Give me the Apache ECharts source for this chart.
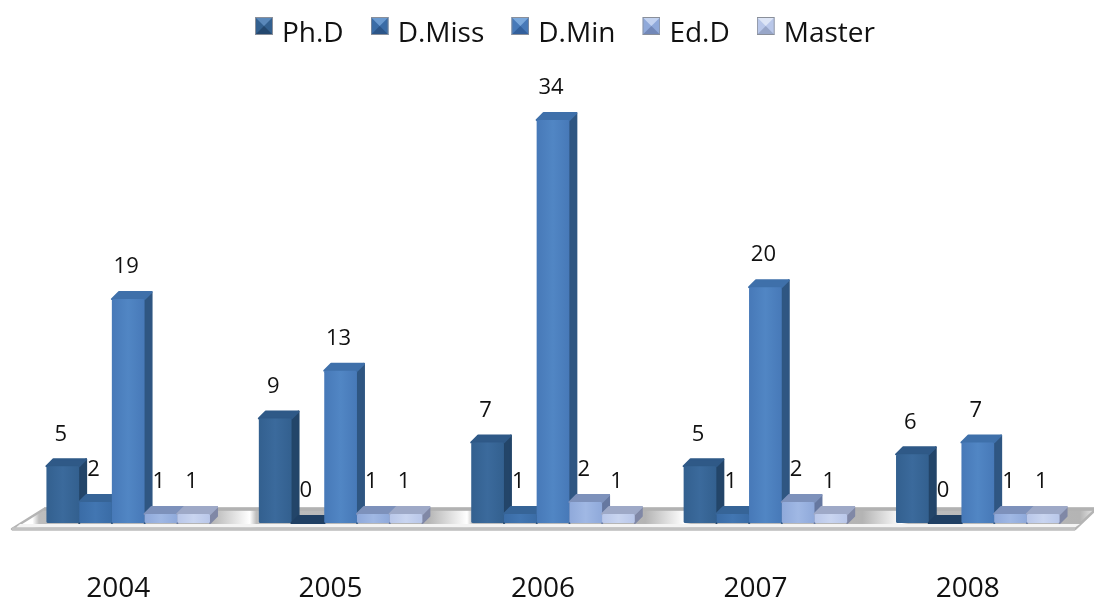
<!DOCTYPE html>
<html><head><meta charset="utf-8">
<style>html,body{margin:0;padding:0;background:#fff}#c{width:1094px;height:601px}</style>
<script src="https://cdn.jsdelivr.net/npm/echarts@6/dist/echarts.min.js"></script>
</head><body><div id="c"></div>
<script>
const categories = ['2004','2005','2006','2007','2008'];
const phd    = [5, 9, 7, 5, 6];
const dMiss  = [2, 0, 1, 1, 0];
const dMin   = [19, 13, 34, 20, 7];
const edD    = [1, 1, 2, 2, 1];
const master = [1, 1, 1, 1, 1];
const seriesNames = ['Ph.D','D.Miss','D.Min','Ed.D','Master'];
const seriesValues = [phd, dMiss, dMin, edD, master];
const palette = [
  {front:'#33608f', hi:'#3b6a9c', side:'#234569', top:'#2f5987', zero:'#1f3f63', iconTop:'#5a88ba', iconBot:'#24486f'},
  {front:'#3a6ca6', hi:'#4276b2', side:'#2a5079', top:'#366497', zero:'#1f3f63', iconTop:'#6a9ad0', iconBot:'#2c5588'},
  {front:'#4779b8', hi:'#5186c4', side:'#2f5682', top:'#3f70aa', zero:'#1f3f63', iconTop:'#7aa8dc', iconBot:'#33609c'},
  {front:'#8fa9da', hi:'#a0b8e4', side:'#6678a0', top:'#7d91bb', zero:'#6678a0', iconTop:'#c2d2f0', iconBot:'#7288b8'},
  {front:'#b9c7e9', hi:'#c9d5f0', side:'#8088a6', top:'#9ea9c7', zero:'#8088a6', iconTop:'#dde5f6', iconBot:'#98a6c8'}
];
const barShare = 0.154, depthX = 7, depthY = 7, baseLift = 3;

function icon(c){
  const svg = `<svg xmlns="http://www.w3.org/2000/svg" width="18" height="35">`+
    `<rect width="18" height="18" fill="${c.front}"/>`+
    `<polygon points="0,0 18,0 9,9" fill="${c.iconTop}"/>`+
    `<polygon points="0,18 18,18 9,9" fill="${c.iconBot}"/>`+
    `<rect x="0.5" y="0.5" width="17" height="17" fill="none" stroke="#8a8f99" stroke-width="1"/></svg>`;
  return 'image://data:image/svg+xml;utf8,' + encodeURIComponent(svg);
}

function barItem(si){
  const c = palette[si];
  return function(params, api){
    const v = api.value(1);
    const ctr = api.coord([api.value(0), 0]);
    const topP = api.coord([api.value(0), v]);
    const band = api.size([1,0])[0];
    const w = band*barShare;
    const x0 = ctr[0] + (si-2.5)*w, x1 = x0+w, yb = ctr[1]-baseLift, yt = Math.min(topP[1], yb);
    const st = col => ({fill:col, stroke:col, lineWidth:2, lineJoin:'round'});
    const children = [
      {type:'polygon', shape:{points:[[x1,yb],[x1+depthX,yb-depthY],[x1+depthX,yt-depthY],[x1,yt]]}, style:st(c.side)},
      {type:'polygon', shape:{points:[[x0,yt],[x0+depthX,yt-depthY],[x1+depthX,yt-depthY],[x1,yt]]}, style:st(v===0?c.zero:c.top)}
    ];
    if(v>0) children.push({type:'rect', shape:{x:x0,y:yt,width:w,height:yb-yt,r:1.5},
      style:{fill:{type:'linear',x:0,y:0,x2:1,y2:0,colorStops:[{offset:0,color:c.front},{offset:0.5,color:c.hi},{offset:1,color:c.front}]}}});
    children.push({type:'text', style:{text:String(v), x:x0+w/2-2, y:yt-depthY-25, align:'center', verticalAlign:'middle',
      fontFamily:'"Open Sans"', fontSize:22, fill:'#111'}, z2:50});
    return {type:'group', children};
  };
}

function floorItem(params, api){
  const cs = params.coordSys;
  const yb = api.coord([0,0])[1]-baseLift;
  const L = cs.x, R = cs.x+cs.width;
  const stops = [{offset:0,color:'#ffffff'}];
  const n = categories.length;
  for(let i=0;i<n;i++){
    const a = i/n;
    stops.push({offset:a+0.10/n, color:'#ffffff'},{offset:a+0.13/n,color:'#bdbdbd'},{offset:a+0.92/n,color:'#b4b4b4'});
  }
  stops.push({offset:1,color:'#f2f2f2'});
  return {type:'group', silent:true, children:[
    {type:'polygon', shape:{points:[[L-10,yb+6],[L+22,yb-14],[R+12,yb-14],[R-9,yb+6]]},
      style:{fill:{type:'linear',x:0,y:0,x2:1,y2:0,colorStops:stops}, stroke:'#b4b4b4', lineWidth:2.5, lineJoin:'round'}},
    {type:'line', shape:{x1:L+22,y1:yb-14,x2:R+12,y2:yb-14}, style:{stroke:'#b2b2b2', lineWidth:3.5}},
    {type:'polygon', shape:{points:[[L-6,yb+4.5],[L-2,yb+1],[R-4,yb+1],[R-9,yb+4.5]]}, style:{fill:'#f4f4f4'}},
    {type:'line', shape:{x1:L-10,y1:yb+6,x2:R-9,y2:yb+6}, style:{stroke:'#c2c2c2', lineWidth:3.5}}
  ]};
}

const series = [{type:'custom', name:'floor', data:[[0,0]], renderItem:floorItem, silent:true, clip:false, z:1, encode:{x:0,y:1}}];
seriesNames.forEach((name,si)=>{
  series.push({type:'custom', name, clip:false, z:2+si, encode:{x:0,y:1},
    itemStyle:{color:palette[si].front},
    data:seriesValues[si].map((v,i)=>[i,v]), renderItem:barItem(si)});
});

const chart = echarts.init(document.getElementById('c'), null, {renderer:'canvas'});
chart.setOption({
  animation:false, backgroundColor:'#fff',
  legend:{top:17, left:255, padding:0, itemGap:27, itemWidth:18, itemHeight:35,
    data:seriesNames.map((n,i)=>({name:n, icon:icon(palette[i])})),
    textStyle:{fontFamily:'"Open Sans"', fontSize:28, color:'#111', padding:[0,0,0,4]}, selectedMode:false},
  grid:{left:22, right:10, top:108, bottom:75, outerBoundsMode:'none'},
  xAxis:{type:'category', data:categories, axisLine:{show:false}, axisTick:{show:false}, splitLine:{show:false},
    axisLabel:{margin:49, padding:[0,20,0,0], fontFamily:'"Open Sans"', fontSize:28, color:'#111'}},
  yAxis:{type:'value', min:0, max:35, show:false, splitLine:{show:false}},
  series
});
</script></body></html>
